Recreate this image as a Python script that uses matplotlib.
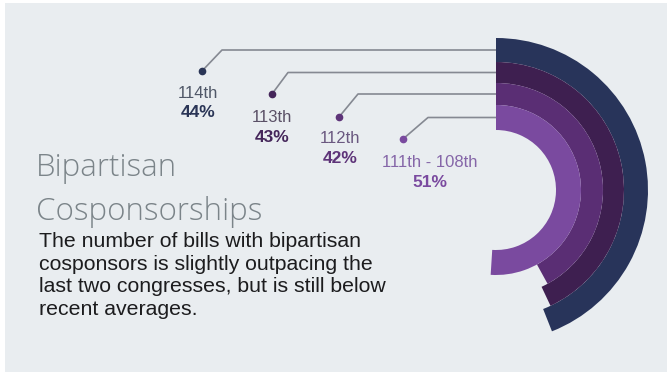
import matplotlib
matplotlib.use("Agg")
import matplotlib.pyplot as plt
from matplotlib.patches import Wedge, Rectangle

# data
congresses = ["114th", "113th", "112th", "111th - 108th"]
shares     = [44, 43, 42, 51]          # percent of bills with bipartisan cosponsors
colors     = ["#28345a", "#3e1f50", "#5a2e74", "#7a4a9f"]
label_cols = ["#2a3556", "#45265a", "#5e3479", "#7a4a9f"]
name_cols  = ["#505868", "#5a5066", "#6a5880", "#8566a8"]

W, H = 667, 375
fig = plt.figure(figsize=(W / 100, H / 100), dpi=100)
ax = fig.add_axes([0, 0, 1, 1])
ax.set_xlim(0, W)
ax.set_ylim(0, H)
ax.axis("off")
fig.patch.set_facecolor("white")

def py(y):
    # pixel row -> axis y
    return H - y

ax.add_patch(Rectangle((5, py(372)), W - 5, 369, facecolor="#e9edf0", edgecolor="none"))

cx, cy = 496, py(190)
radii = [(128, 152), (107, 128), (85, 107), (60, 85)]
elbows = [(222, 202, 71), (288, 272, 94), (358, 339, 117), (428, 403, 139)]
# x centre, baseline of name, baseline of percent
text_pos = [(198, 98, 117), (272, 122, 142), (340, 143, 163), (430, 167, 187)]

for i, (name, val) in enumerate(zip(congresses, shares)):
    r_in, r_out = radii[i]
    span = 360 * val / 100
    ax.add_patch(Wedge((cx, cy), r_out, 90 - span, 90, width=r_out - r_in,
                       facecolor=colors[i], edgecolor="none", zorder=3))

    # leader line from ring top to the dot
    ymid = cy + (r_in + r_out) / 2
    ex, dx, dy = elbows[i]
    ax.plot([cx, ex, dx], [ymid, ymid, py(dy)], color="#858992", lw=1.2, zorder=2)
    ax.plot(dx, py(dy), "o", ms=4.5, color=label_cols[i], zorder=4)

    tx, ty1, ty2 = text_pos[i]
    ax.text(tx, py(ty1), name, ha="center", va="baseline", fontsize=12,
            color=name_cols[i], family="Liberation Sans")
    ax.text(tx, py(ty2), f"{val}%", ha="center", va="baseline",
            fontsize=12.5, fontweight="bold", color=label_cols[i], family="Liberation Sans")

ax.text(36, py(176), "Bipartisan", ha="left", va="baseline", fontsize=22.5,
        color="#7b8489", family="Open Sans", fontweight="light")
ax.text(36, py(220), "Cosponsorships", ha="left", va="baseline", fontsize=22.5,
        color="#7b8489", family="Open Sans", fontweight="light")

body = ["The number of bills with bipartisan",
        "cosponsors is slightly outpacing the",
        "last two congresses, but is still below",
        "recent averages."]
for k, line in enumerate(body):
    ax.text(39, py(247 + 22.7 * k), line, ha="left", va="baseline", fontsize=15.3,
            color="#1c1c1e", family="Liberation Sans")

fig.savefig("out.png", dpi=100)
